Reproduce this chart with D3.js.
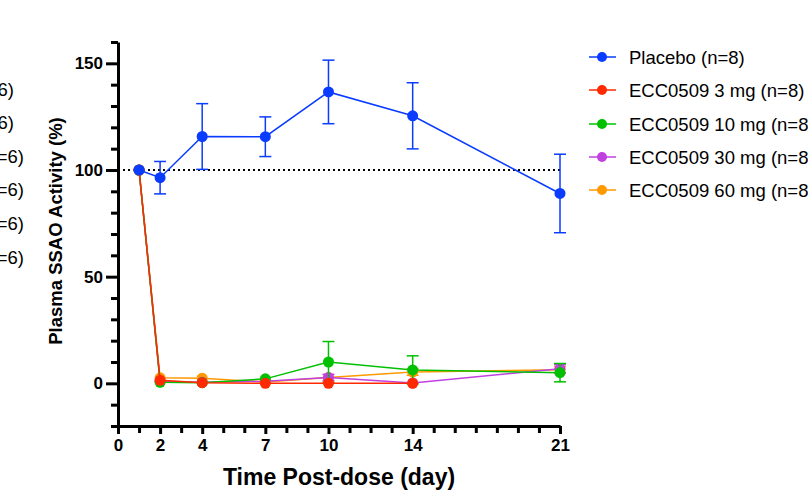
<!DOCTYPE html>
<html>
<head>
<meta charset="utf-8">
<script src="https://d3js.org/d3.v7.min.js"></script>
<style>
  body { margin: 0; background: #fff; overflow: hidden; }
  text { font-family: "Liberation Sans", Arial, sans-serif; }
  .axis path, .axis line { stroke: #000; stroke-width: 3px; }
  .axis text { font-size: 17px; font-weight: bold; fill: #000; }
</style>
</head>
<body>
<script>
// days sampled
var days = [1, 2, 4, 7, 10, 14, 21];
var xTickValues = [0, 2, 4, 7, 10, 14, 21];
var yTickValues = [0, 50, 100, 150];

var seriesNames = ["Placebo (n=8)", "ECC0509 3 mg (n=8)", "ECC0509 10 mg (n=8)", "ECC0509 30 mg (n=8)", "ECC0509 60 mg (n=8)"];
var seriesColors = ["#0a3cff", "#ff2a00", "#00c000", "#c040e0", "#ff9900"];

// means (% of baseline), null = not measured
var placebo = [100, 96.4, 115.7, 115.6, 136.6, 125.4, 89.0];
var mg3 = [100, 1.4, 0.3, 0.0, 0.0, 0.0, null];
var mg10 = [100, 0.5, 0.3, 2.1, 10.0, 6.3, 5.0];
var mg30 = [100, 1.0, 0.5, 1.0, 2.7, 0.2, 6.8];
var mg60 = [100, 2.6, 2.4, 0.6, 2.7, 5.3, 6.4];

// error bars (SEM)
var placeboErr = [0, 7.6, 15.4, 9.3, 14.9, 15.5, 18.4];
var mg3Err = [0, 0.4, 0.2, 0, 0, 0, null];
var mg10Err = [0, 0.3, 0.3, 0.5, 9.6, 6.6, 4.3];
var mg30Err = [0, 0.4, 0.3, 0.3, 1.5, 0.3, 2.0];
var mg60Err = [0, 0.5, 0.4, 0.3, 0.4, 1.5, 1.5];

// partial legend text of the neighbouring panel (cut off at the left)
var leftLegend = ["(n=6)", "(n=6)", "(n=6)", "(n=6)", "(n=6)", "(n=6)"];

var means = [placebo, mg3, mg10, mg30, mg60];
var errs = [placeboErr, mg3Err, mg10Err, mg30Err, mg60Err];

var W = 808, H = 498;
var svg = d3.select("body").append("svg").attr("width", W).attr("height", H);

var x = d3.scaleLinear().domain([0, 21]).range([118, 560]);
var y = d3.scaleLinear().domain([-20, 160]).range([426, 42]);

// y axis
var yMinor = d3.range(-20, 161, 10).filter(function(v){ return yTickValues.indexOf(v) < 0; });
svg.append("g").attr("class", "axis")
  .attr("transform", "translate(118,0)")
  .call(d3.axisLeft(y).tickValues(yMinor).tickSize(7).tickFormat(""))
  .call(function(g){ g.select(".domain").remove(); });
svg.append("g").attr("class", "axis")
  .attr("transform", "translate(118,0)")
  .call(d3.axisLeft(y).tickValues(yTickValues).tickSize(12).tickSizeOuter(0).tickPadding(3));

// x axis
var xMinor = d3.range(0, 22).filter(function(v){ return xTickValues.indexOf(v) < 0; });
svg.append("g").attr("class", "axis")
  .attr("transform", "translate(0,426)")
  .call(d3.axisBottom(x).tickValues(xMinor).tickSize(7).tickFormat(""))
  .call(function(g){ g.select(".domain").remove(); });
svg.append("g").attr("class", "axis")
  .attr("transform", "translate(0,426)")
  .call(d3.axisBottom(x).tickValues(xTickValues).tickSize(8).tickSizeOuter(0).tickPadding(5));

// reference line at 100 %
svg.append("line")
  .attr("x1", x(0)).attr("x2", x(21))
  .attr("y1", y(100)).attr("y2", y(100))
  .attr("stroke", "#000").attr("stroke-width", 2).attr("stroke-dasharray", "2,3");

// series, drawn from last to first so placebo and 3 mg sit on top
d3.range(seriesNames.length).reverse().forEach(function(s){
  var pts = days.map(function(d, i){ return { d: d, v: means[s][i], e: errs[s][i] }; })
    .filter(function(p){ return p.v !== null; });
  var col = seriesColors[s];
  var g = svg.append("g");

  g.selectAll(".err").data(pts.filter(function(p){ return p.e > 1; })).enter().append("g")
    .each(function(p){
      var eg = d3.select(this);
      eg.append("line").attr("x1", x(p.d)).attr("x2", x(p.d))
        .attr("y1", y(p.v - p.e)).attr("y2", y(p.v + p.e))
        .attr("stroke", col).attr("stroke-width", 1.5);
      [p.v - p.e, p.v + p.e].forEach(function(v){
        eg.append("line").attr("x1", x(p.d) - 6).attr("x2", x(p.d) + 6)
          .attr("y1", y(v)).attr("y2", y(v))
          .attr("stroke", col).attr("stroke-width", 1.5);
      });
    });

  g.append("path").datum(pts)
    .attr("fill", "none").attr("stroke", col).attr("stroke-width", 1.5)
    .attr("d", d3.line().x(function(p){ return x(p.d); }).y(function(p){ return y(p.v); }));

  g.selectAll("circle").data(pts).enter().append("circle")
    .attr("cx", function(p){ return x(p.d); })
    .attr("cy", function(p){ return y(p.v); })
    .attr("r", 5.5).attr("fill", col);
});

// axis titles
svg.append("text")
  .attr("transform", "translate(62,231) rotate(-90)")
  .attr("text-anchor", "middle")
  .style("font-size", "18.5px").style("font-weight", "bold")
  .text("Plasma SSAO Activity (%)");

svg.append("text")
  .attr("x", 339).attr("y", 485)
  .attr("text-anchor", "middle")
  .style("font-size", "23px").style("font-weight", "bold")
  .text("Time Post-dose (day)");

// legend
var legY = [57, 90, 124, 157, 190];
seriesNames.forEach(function(name, i){
  var lg = svg.append("g").attr("transform", "translate(0," + legY[i] + ")");
  lg.append("line").attr("x1", 589).attr("x2", 616).attr("y1", 0).attr("y2", 0)
    .attr("stroke", seriesColors[i]).attr("stroke-width", 1.5);
  lg.append("circle").attr("cx", 602).attr("cy", 0).attr("r", 5).attr("fill", seriesColors[i]);
  lg.append("text").attr("x", 629).attr("y", 7)
    .style("font-size", "18.5px").text(name);
});

// cut-off legend on the left edge
var leftY = [89, 122, 156, 189, 223, 257];
var leftEnd = [14, 14, 24, 24, 24, 24];
leftLegend.forEach(function(t, i){
  svg.append("text").attr("x", leftEnd[i]).attr("y", leftY[i] + 7)
    .attr("text-anchor", "end").style("font-size", "18.5px").text(t);
});
</script>
</body>
</html>
